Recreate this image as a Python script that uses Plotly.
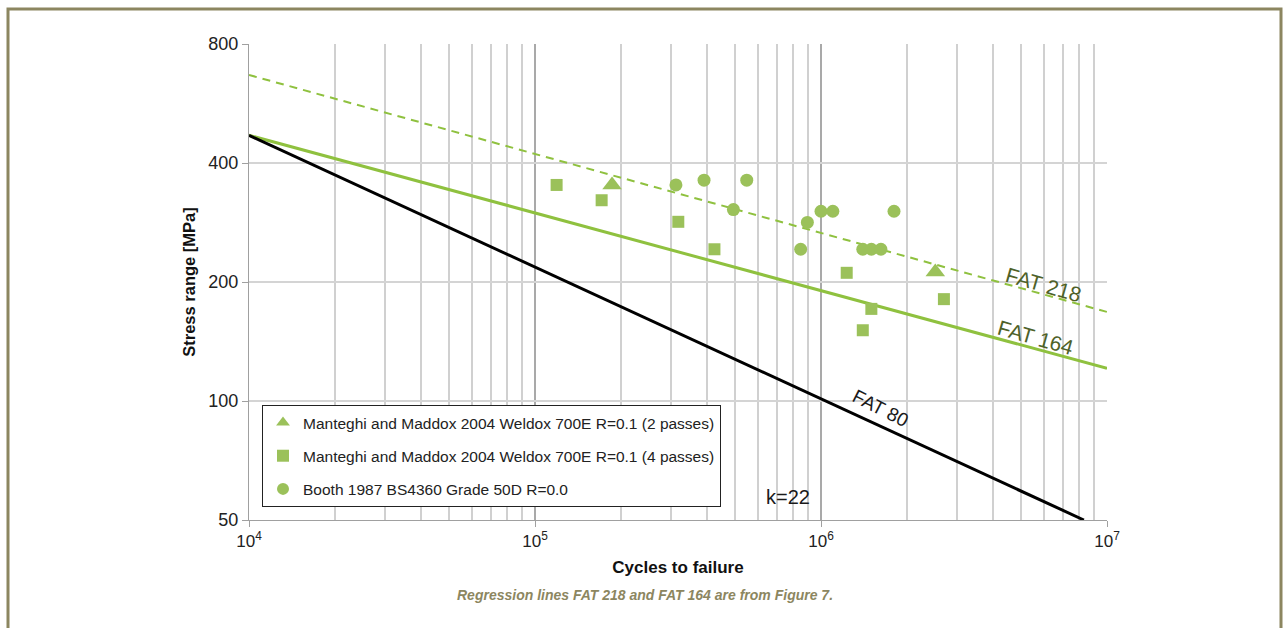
import numpy as np
import plotly.graph_objects as go

# ---------------- data ----------------
# S-N lines (cycles, stress range MPa)
fat80_cycles = [1e4, 8.3e6]
fat80_stress = [470, 50]
fat164_cycles = [1e4, 1e7]
fat164_stress = [470, 121]
fat218_cycles = [1e4, 1e7]
fat218_stress = [668, 168]

# Manteghi and Maddox 2004 (2 passes) - triangles
tri_cycles = [1.86e5, 2.51e6]
tri_stress = [352, 212]

# Manteghi and Maddox 2004 (4 passes) - squares
sq_cycles = [1.19e5, 1.71e5, 3.17e5, 4.24e5, 1.23e6, 1.50e6, 1.40e6, 2.69e6]
sq_stress = [352, 322, 284, 242, 211, 171, 151, 181]

# Booth 1987 - circles
ci_cycles = [3.11e5, 3.90e5, 5.50e5, 4.94e5, 8.96e5, 8.49e5, 1.00e6, 1.10e6,
             1.80e6, 1.40e6, 1.50e6, 1.62e6]
ci_stress = [352, 362, 362, 305, 283, 242, 302, 302, 302, 242, 242, 242]

legend_names = [
    "Manteghi and Maddox 2004 Weldox 700E R=0.1 (2 passes)",
    "Manteghi and Maddox 2004 Weldox 700E R=0.1 (4 passes)",
    "Booth 1987 BS4360 Grade 50D R=0.0",
]

x_tickvals = [1e4, 1e5, 1e6, 1e7]
x_ticktext = ["10<sup>4</sup>", "10<sup>5</sup>", "10<sup>6</sup>", "10<sup>7</sup>"]
y_tickvals = [50, 100, 200, 400, 800]
y_ticktext = ["50", "100", "200", "400", "800"]
x_minor = [m * 10 ** e for e in (4, 5, 6) for m in range(2, 10)]

# ---------------- style ----------------
FONT = "Arial, Liberation Sans, sans-serif"
GREEN_LINE = "#8FC13F"
GREEN_MARK = "#9BC15A"
DARK_GREEN = "#4E6128"
OLIVE = "#8C8660"

fig = go.Figure()

fig.add_trace(go.Scatter(x=fat218_cycles, y=fat218_stress, mode="lines",
                         line=dict(color=GREEN_LINE, width=2, dash="8px,6px"),
                         showlegend=False, hoverinfo="skip"))
fig.add_trace(go.Scatter(x=fat164_cycles, y=fat164_stress, mode="lines",
                         line=dict(color=GREEN_LINE, width=3),
                         showlegend=False, hoverinfo="skip"))
fig.add_trace(go.Scatter(x=fat80_cycles, y=fat80_stress, mode="lines",
                         line=dict(color="#000000", width=3),
                         showlegend=False, hoverinfo="skip"))

fig.add_trace(go.Scatter(x=tri_cycles, y=tri_stress, mode="markers",
                         name=legend_names[0], legendgroup="a",
                         marker=dict(symbol="triangle-up", size=17, color=GREEN_MARK)))
fig.add_trace(go.Scatter(x=sq_cycles, y=sq_stress, mode="markers",
                         name=legend_names[1], legendgroup="b",
                         marker=dict(symbol="square", size=12, color=GREEN_MARK)))
fig.add_trace(go.Scatter(x=ci_cycles, y=ci_stress, mode="markers",
                         name=legend_names[2], legendgroup="c",
                         marker=dict(symbol="circle", size=13, color=GREEN_MARK)))

W, H = 1287, 628
L, R, T, B = 249, 1107, 44, 520
pw, ph = R - L, B - T


def px(xp):
    return (xp - L) / pw


def py(yp):
    return (B - yp) / ph


fig.update_layout(
    width=W, height=H,
    margin=dict(l=L, r=W - R, t=T, b=H - B),
    paper_bgcolor="white", plot_bgcolor="white",
    font=dict(family=FONT, color="#222222", size=16),
    showlegend=True,
    legend=dict(
        x=px(262), y=py(405), xanchor="left", yanchor="top",
        bgcolor="white", bordercolor="#222222", borderwidth=1,
        font=dict(family=FONT, size=15.5, color="#222222"),
        tracegroupgap=10, itemsizing="constant",
        itemwidth=30,
    ),
    xaxis=dict(
        type="log", range=[4, 7],
        tickvals=x_tickvals, ticktext=x_ticktext,
        showgrid=True, gridcolor="#A9A9A9", gridwidth=2,
        ticks="outside", ticklen=6, tickcolor="#A0A0A0", tickwidth=1,
        showline=True, linecolor="#A0A0A0", linewidth=1,
        tickfont=dict(size=17, color="#222222"),
        minor=dict(tickvals=x_minor, showgrid=True, gridcolor="#D0D0D0",
                   gridwidth=1.5, ticks=""),
        title=dict(text="<b>Cycles to failure</b>", font=dict(size=17, color="#111111"),
                   standoff=10),
        zeroline=False,
    ),
    yaxis=dict(
        type="log", range=[np.log10(50), np.log10(800)],
        tickvals=y_tickvals, ticktext=y_ticktext,
        showgrid=True, gridcolor="#D4D4D4", gridwidth=2,
        ticks="outside", ticklen=6, tickcolor="#A0A0A0", tickwidth=1,
        showline=True, linecolor="#A0A0A0", linewidth=1,
        tickfont=dict(size=18, color="#222222"),
        title=dict(text="<b>Stress range [MPa]</b>", font=dict(size=16.5, color="#111111"),
                   standoff=8),
        zeroline=False,
    ),
    shapes=[
        dict(type="rect", xref="paper", yref="paper",
             x0=px(8), x1=px(1281), y0=py(9), y1=py(650),
             line=dict(color=OLIVE, width=3), layer="below"),
    ],
)


def log_x(xp):
    return 4 + (xp - L) / pw * 3


def log_y(yp):
    return np.log10(800) - (yp - T) / ph * (np.log10(800) - np.log10(50))


annots = [
    dict(text="FAT 218", xp=1043, yp=284, angle=16, color=DARK_GREEN, size=21),
    dict(text="FAT 164", xp=1036, yp=337, angle=16, color=DARK_GREEN, size=21),
    dict(text="FAT 80", xp=881, yp=408, angle=27, color="#1a1a1a", size=19),
    dict(text="k=22", xp=788, yp=497, angle=0, color="#1a1a1a", size=20),
]
for a in annots:
    fig.add_annotation(x=log_x(a["xp"]), y=log_y(a["yp"]), xref="x", yref="y",
                       text=a["text"], showarrow=False, textangle=a["angle"],
                       font=dict(family=FONT, size=a["size"], color=a["color"]))

fig.add_annotation(x=px(645), y=py(605), xref="paper", yref="paper",
                   text="<i><b>Regression lines FAT 218 and FAT 164 are from Figure 7.</b></i>",
                   showarrow=False,
                   font=dict(family="Liberation Sans Narrow, Arial Narrow, Arial, sans-serif",
                             size=14, color=OLIVE))

fig.write_html("out.html")
